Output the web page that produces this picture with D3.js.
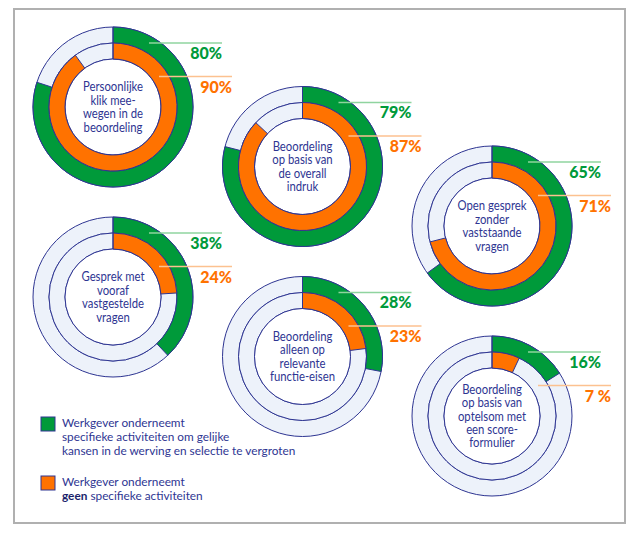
<!DOCTYPE html>
<html>
<head>
<meta charset="utf-8">
<script src="https://cdn.jsdelivr.net/npm/d3@7"></script>
<style>
body{margin:0;background:#fff;}
svg text{font-family:Lato,"Open Sans",sans-serif;}
</style>
</head>
<body>
<div class="visHolder"></div>
<script>
var width=640,
    height=545;

// chart data
var items=[
  ["Persoonlijke","klik mee-","wegen in de","beoordeling"],
  ["Beoordeling","op basis van","de overall","indruk"],
  ["Open gesprek","zonder","vaststaande","vragen"],
  ["Gesprek met","vooraf","vastgestelde","vragen"],
  ["Beoordeling","alleen op","relevante","functie-eisen"],
  ["Beoordeling","op basis van","optelsom met","een score-","formulier"]
];
var greenValues=[80,79,65,38,28,16];
var orangeValues=[90,87,71,24,23,7];
var greenLabels=["80%","79%","65%","38%","28%","16%"];
var orangeLabels=["90%","87%","71%","24%","23%","7 %"];
var legendItems=[
  {key:"green",lines:[["Werkgever onderneemt"],["specifieke activiteiten om gelijke"],["kansen in de werving en selectie te vergroten"]]},
  {key:"orange",lines:[["Werkgever onderneemt"],["geen","b"," specifieke activiteiten"]]}
];

var colors={green:"#009a3a",orange:"#ff7200"};
var navy="#2e3592",pale="#edf2fa";

var svg=d3.select('.visHolder')
  .append('svg')
  .attr('width',width)
  .attr('height',height);

// frame
svg.append("rect")
  .attr("x",14).attr("y",9)
  .attr("width",611).attr("height",514)
  .attr("fill","none")
  .attr("stroke","#b0b0b0")
  .attr("stroke-width",2);

var angle=d3.scaleLinear().domain([0,100]).range([0,2*Math.PI]);
var rIn=48,rMid=64,rOut=80;
var outerArc=d3.arc().innerRadius(rMid).outerRadius(rOut);
var innerArc=d3.arc().innerRadius(rIn).outerRadius(rMid);

// column / row placement
var colX=d3.scaleLinear().domain([0,2]).range([113,492]);
function cxOf(i){return colX(i%3);}
function cyOf(i){return 107+Math.floor(i/3)*190+(i%3)*59.5;}

var g=svg.selectAll("g.donut")
  .data(items)
  .enter()
  .append("g")
  .attr("class","donut")
  .attr("transform",(d,i)=>"translate("+cxOf(i)+","+cyOf(i)+")");

// background rings
g.append("path")
  .attr("d",outerArc({startAngle:0,endAngle:2*Math.PI}))
  .attr("fill",pale).attr("stroke",navy).attr("stroke-width",1);
g.append("path")
  .attr("d",innerArc({startAngle:0,endAngle:2*Math.PI}))
  .attr("fill",pale).attr("stroke",navy).attr("stroke-width",1);
g.append("circle").attr("r",rIn).attr("fill","#fff").attr("stroke",navy).attr("stroke-width",1);

// value arcs
g.append("path")
  .attr("d",(d,i)=>outerArc({startAngle:0,endAngle:angle(greenValues[i])}))
  .attr("fill",colors.green).attr("stroke",navy).attr("stroke-width",1);
g.append("path")
  .attr("d",(d,i)=>innerArc({startAngle:0,endAngle:angle(orangeValues[i])}))
  .attr("fill",colors.orange).attr("stroke",navy).attr("stroke-width",1);

// top divider
g.append("line")
  .attr("x1",0).attr("x2",0).attr("y1",-rIn).attr("y2",-rOut)
  .attr("stroke",navy).attr("stroke-width",1);

// centre text
g.each(function(d){
  var t=d3.select(this).append("text")
    .attr("text-anchor","middle")
    .attr("fill",navy)
    .attr("transform","scale(0.87,1)")
    .style("font-size","13px");
  var n=d.length;
  d.forEach(function(line,j){
    t.append("tspan")
      .attr("x",0)
      .attr("y",(j-(n-1)/2)*13.4+4.5)
      .text(line);
  });
});

// value labels
g.append("line")
  .attr("x1",36).attr("x2",109).attr("y1",-64).attr("y2",-64)
  .attr("stroke","#8fd49f").attr("stroke-width",1.5);
g.append("line")
  .attr("x1",46).attr("x2",119).attr("y1",-30.5).attr("y2",-30.5)
  .attr("stroke","#fcc190").attr("stroke-width",1.5);
g.append("text")
  .attr("x",109).attr("y",-48.5)
  .attr("text-anchor","end")
  .attr("fill",colors.green)
  .style("font-size","16px").style("font-weight","900")
  .text((d,i)=>greenLabels[i]);
g.append("text")
  .attr("x",119).attr("y",-14.5)
  .attr("text-anchor","end")
  .attr("fill",colors.orange)
  .style("font-size","16px").style("font-weight","900")
  .text((d,i)=>orangeLabels[i]);

// legend
var legY=[417,476];
var lg=svg.selectAll("g.legend")
  .data(legendItems)
  .enter()
  .append("g")
  .attr("class","legend")
  .attr("transform",(d,i)=>"translate(41,"+legY[i]+")");
lg.append("rect")
  .attr("width",14).attr("height",14)
  .attr("fill",d=>colors[d.key])
  .attr("stroke",navy).attr("stroke-width",1);
lg.each(function(d){
  var t=d3.select(this).append("text")
    .attr("fill",navy)
    .style("font-size","11.8px");
  d.lines.forEach(function(parts,j){
    var ts=t.append("tspan").attr("x",21).attr("y",10+j*14.2);
    if(parts.length>1){
      ts.text(parts[0]).style("font-weight","bold").attr("fill","#1b1f6b");
      t.append("tspan").text(parts[2]);
    } else {
      ts.text(parts[0]);
    }
  });
});
</script>
</body>
</html>
